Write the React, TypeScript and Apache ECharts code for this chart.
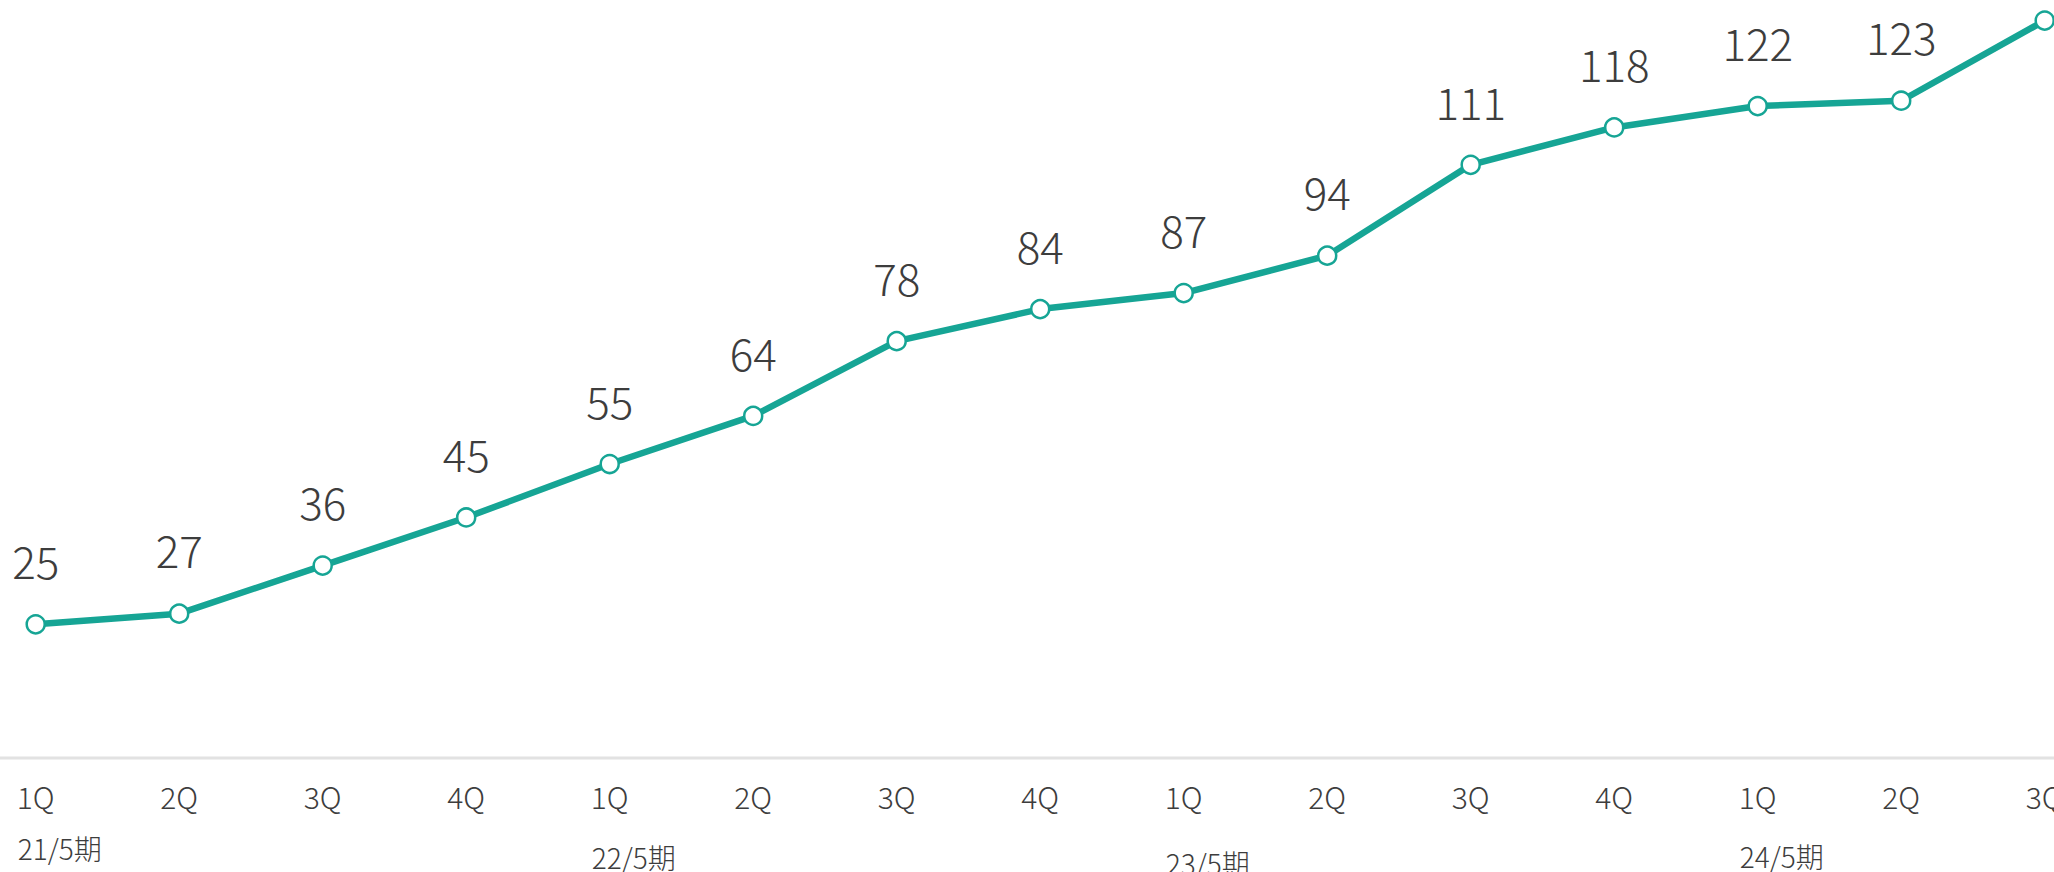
import React, { useEffect, useRef } from "react";
import * as echarts from "echarts";

const quarters = ["1Q", "2Q", "3Q", "4Q", "1Q", "2Q", "3Q", "4Q", "1Q", "2Q", "3Q", "4Q", "1Q", "2Q", "3Q"];
const values = [25, 27, 36, 45, 55, 64, 78, 84, 87, 94, 111, 118, 122, 123, 138];
const periods = ["21/5期", "22/5期", "23/5期", "24/5期"];
const periodStartIndex = [0, 4, 8, 12];
const periodY = [848, 857, 863, 856];

const FONT = "'Noto Sans CJK JP', 'Noto Sans', sans-serif";
const TEXT = "#3d3d3d";
const TEAL = "#16a595";

export default function App() {
  const ref = useRef<HTMLDivElement>(null);
  useEffect(() => {
    document.body.style.margin = "0";
    document.body.style.overflow = "hidden";
    document.documentElement.style.overflow = "hidden";
    if (!ref.current) return;
    const chart = echarts.init(ref.current, undefined, { renderer: "svg", width: 2054, height: 872 });
    chart.setOption({
      animation: false,
      backgroundColor: "#ffffff",
      grid: {
        left: 35.7,
        right: 9.3,
        top: 0,
        bottom: 114.1,
        containLabel: false,
        outerBoundsMode: "none",
      },
      xAxis: {
        type: "category",
        data: quarters,
        boundaryGap: false,
        axisLine: { show: false },
        axisTick: { show: false },
        splitLine: { show: false },
        axisLabel: {
          interval: 0,
          color: TEXT,
          fontFamily: FONT,
          fontWeight: 300,
          fontSize: 30,
          margin: 23,
          hideOverlap: false,
        },
      },
      yAxis: { type: "value", min: 0, max: 141.85, show: false, splitLine: { show: false } },
      series: [
        {
          type: "line",
          data: values,
          symbol: "circle",
          symbolSize: 18,
          showAllSymbol: true,
          lineStyle: { color: TEAL, width: 6.5 },
          itemStyle: { color: "#ffffff", borderColor: TEAL, borderWidth: 2.5 },
          label: {
            show: true,
            position: "top",
            distance: 32,
            color: TEXT,
            fontFamily: FONT,
            fontWeight: 300,
            fontSize: 44,
          },
          z: 3,
        },
      ],
    });
    const axisY = chart.convertToPixel({ yAxisIndex: 0 }, 0) as number;
    const graphics: any[] = [
      {
        type: "line",
        z: 1,
        shape: { x1: 0, y1: axisY, x2: 2054, y2: axisY },
        style: { stroke: "#e2e2e2", lineWidth: 3 },
      },
    ];
    periods.forEach((p, i) => {
      const x = chart.convertToPixel({ xAxisIndex: 0 }, periodStartIndex[i]) as number;
      graphics.push({
        type: "text",
        x: x - 18,
        y: periodY[i],
        style: {
          text: p,
          fill: TEXT,
          font: `300 28px ${FONT}`,
          textAlign: "left",
          textVerticalAlign: "middle",
        },
      });
    });
    chart.setOption({ graphic: graphics });
    return () => chart.dispose();
  }, []);
  return <div ref={ref} style={{ width: 2054, height: 872, overflow: "hidden" }} />;
}
